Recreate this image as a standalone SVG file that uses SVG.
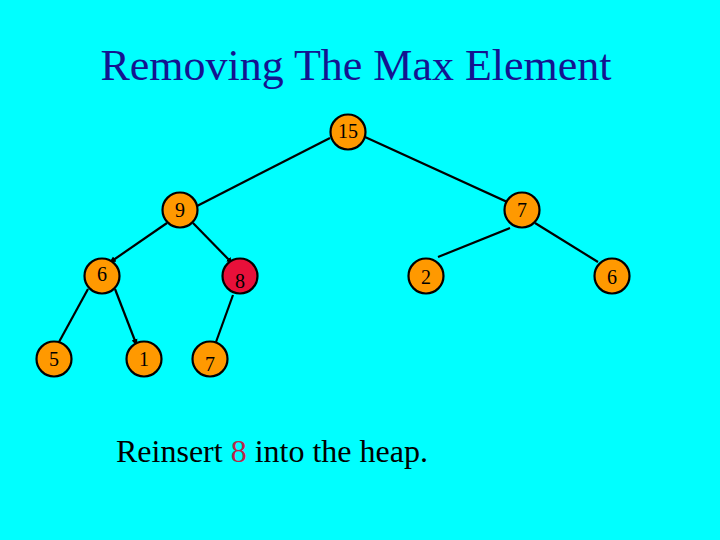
<svg xmlns="http://www.w3.org/2000/svg" width="720" height="540" viewBox="0 0 720 540">
<defs>
<style>
.n{fill:#FF9900;stroke:#000;stroke-width:2.2}
.r{fill:#E8103A;stroke:#000;stroke-width:2.2}
.t{font-family:"Liberation Serif","Times New Roman",serif;font-size:20px;text-anchor:middle;fill:#000}
.e{stroke:#000;stroke-width:2.2;fill:none}
</style>
<marker id="a" markerWidth="8" markerHeight="8" refX="7" refY="4" orient="auto" markerUnits="userSpaceOnUse">
<path d="M0,1 L7,4 L0,7 z" fill="#000"/>
</marker>
</defs>
<rect width="720" height="540" fill="#00FFFF"/>
<text x="356" y="80" font-family="Liberation Serif,'Times New Roman',serif" font-size="44" text-anchor="middle" fill="#141490">Removing The Max Element</text>
<g id="edges">
<line class="e" x1="330" y1="138" x2="197" y2="206"/>
<line class="e" x1="365" y1="137" x2="514" y2="205" marker-end="url(#a)"/>
<line class="e" x1="167" y1="223" x2="109" y2="263" marker-end="url(#a)"/>
<line class="e" x1="193" y1="223" x2="233" y2="264" marker-end="url(#a)"/>
<line class="e" x1="510" y1="228" x2="438" y2="257"/>
<line class="e" x1="535" y1="223" x2="598" y2="262"/>
<line class="e" x1="88" y1="289" x2="59" y2="342"/>
<line class="e" x1="115" y1="289" x2="137" y2="346" marker-end="url(#a)"/>
<line class="e" x1="233" y1="295" x2="216" y2="342"/>
</g>
<g id="n15"><circle class="n" cx="348" cy="132" r="17.5"/><text class="t" x="348" y="138">15</text></g>
<g id="n9"><circle class="n" cx="180" cy="210" r="17.5"/><text class="t" x="180" y="217">9</text></g>
<g id="n7a"><circle class="n" cx="522" cy="210" r="17.5"/><text class="t" x="522" y="217">7</text></g>
<g id="n6a"><circle class="n" cx="102" cy="276" r="17.5"/><text class="t" x="102" y="281">6</text></g>
<g id="n8"><circle class="r" cx="240" cy="276" r="17.5"/><text class="t" x="240" y="288" fill="#400">8</text></g>
<g id="n2"><circle class="n" cx="426" cy="276" r="17.5"/><text class="t" x="426" y="284">2</text></g>
<g id="n6b"><circle class="n" cx="612" cy="276" r="17.5"/><text class="t" x="612" y="284">6</text></g>
<g id="n5"><circle class="n" cx="54" cy="359" r="17.5"/><text class="t" x="54" y="366">5</text></g>
<g id="n1"><circle class="n" cx="144" cy="359" r="17.5"/><text class="t" x="144" y="366">1</text></g>
<g id="n7b"><circle class="n" cx="210" cy="359" r="17.5"/><text class="t" x="210" y="371">7</text></g>
<text x="116" y="462" font-family="Liberation Serif,'Times New Roman',serif" font-size="32" fill="#000">Reinsert <tspan fill="#B8284A">8</tspan> into the heap.</text>
</svg>
